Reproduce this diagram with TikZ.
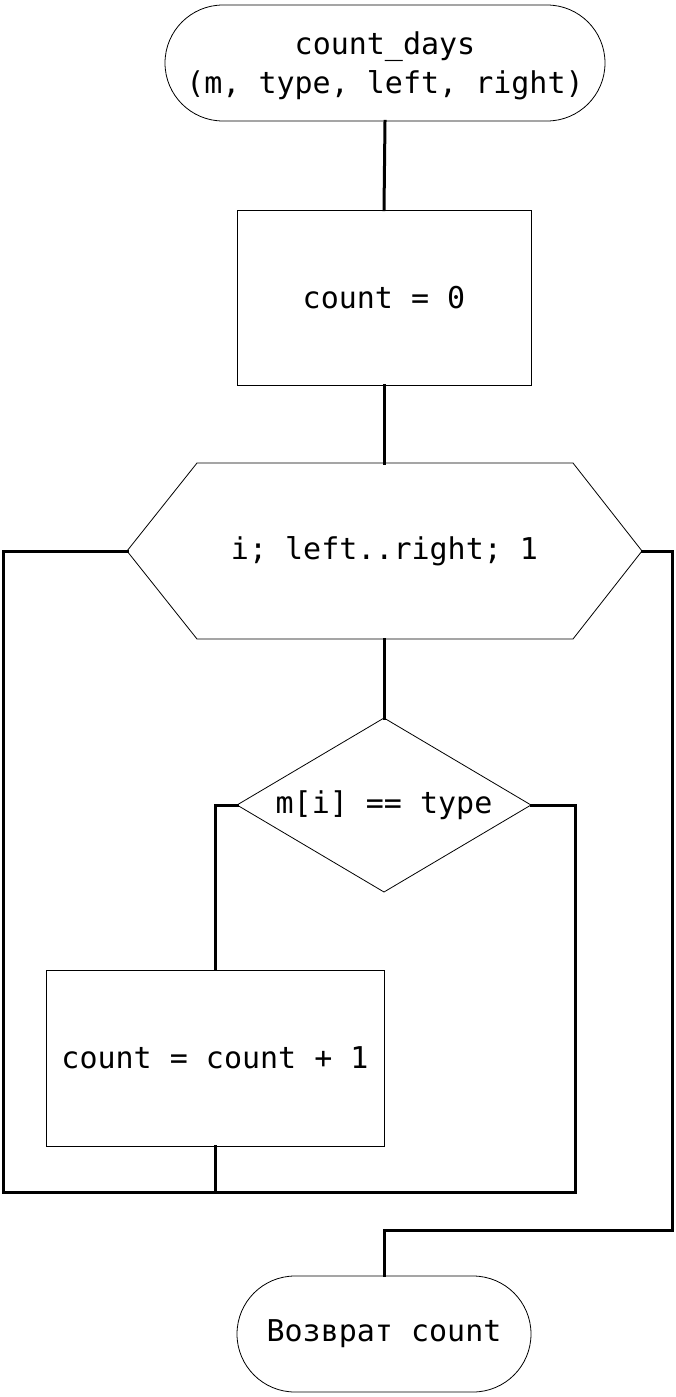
\documentclass[tikz,border=0pt]{standalone}
\usepackage{fontspec}
\setmonofont{DejaVu Sans Mono}
\begin{document}
\begin{tikzpicture}[x=1pt,y=-1pt,
  every node/.style={font=\ttfamily\fontsize{30}{39}\selectfont, align=center, inner sep=0pt},
  shp/.style={draw, line width=0.8pt},
  term/.style={shp, rectangle, rounded corners=58pt, minimum height=116pt},
  proc/.style={shp, rectangle, minimum width=294pt, minimum height=175pt},
  conn/.style={line width=3pt, line cap=rect}]
\useasboundingbox (0,0) rectangle (675,1397);
\node[term, minimum width=440pt, text depth=0pt] (start) at (385,63) {count\_days\\(m, type, left, right)};
\node[proc] (init) at (384,297.5) {count = 0};
\node (loop) at (384.5,551) {i; left..right; 1};
\draw[shp] (127,551) -- (197,463) -- (573,463) -- (642,551) -- (573,639) -- (197,639) -- cycle;
\coordinate (loopN) at (384,463);
\coordinate (loopS) at (384,639);
\coordinate (loopW) at (127,551);
\coordinate (loopE) at (642,551);
\node (test) at (384,805) {m[i] == type};
\draw[shp] (384,718) -- (531,805) -- (384,892) -- (237,805) -- cycle;
\coordinate (testN) at (384,718);
\coordinate (testW) at (237,805);
\coordinate (testE) at (531,805);
\node[proc, minimum width=338pt, minimum height=176pt] (inc) at (215,1058) {count = count + 1};
\node[term, minimum width=294pt] (stop) at (384,1334) {Возврат count};
\coordinate (jL) at (3,1192);
\coordinate (jM) at (215,1192);
\coordinate (jR) at (575,1192);
\coordinate (eR) at (672,1230);
\coordinate (eM) at (384,1230);
\draw[conn] (start.south) -- (init.north);
\draw[conn] (init.south) -- (loopN);
\draw[conn] (loopS) -- (testN);
\draw[conn] (testW) -| (inc.north);
\draw[conn] (inc.south) -- (jM);
\draw[conn] (testE) -| (jR) -- (jL) |- (loopW);
\draw[conn] (loopE) -| (eR) -- (eM) -- (stop.north);
\end{tikzpicture}
\end{document}
